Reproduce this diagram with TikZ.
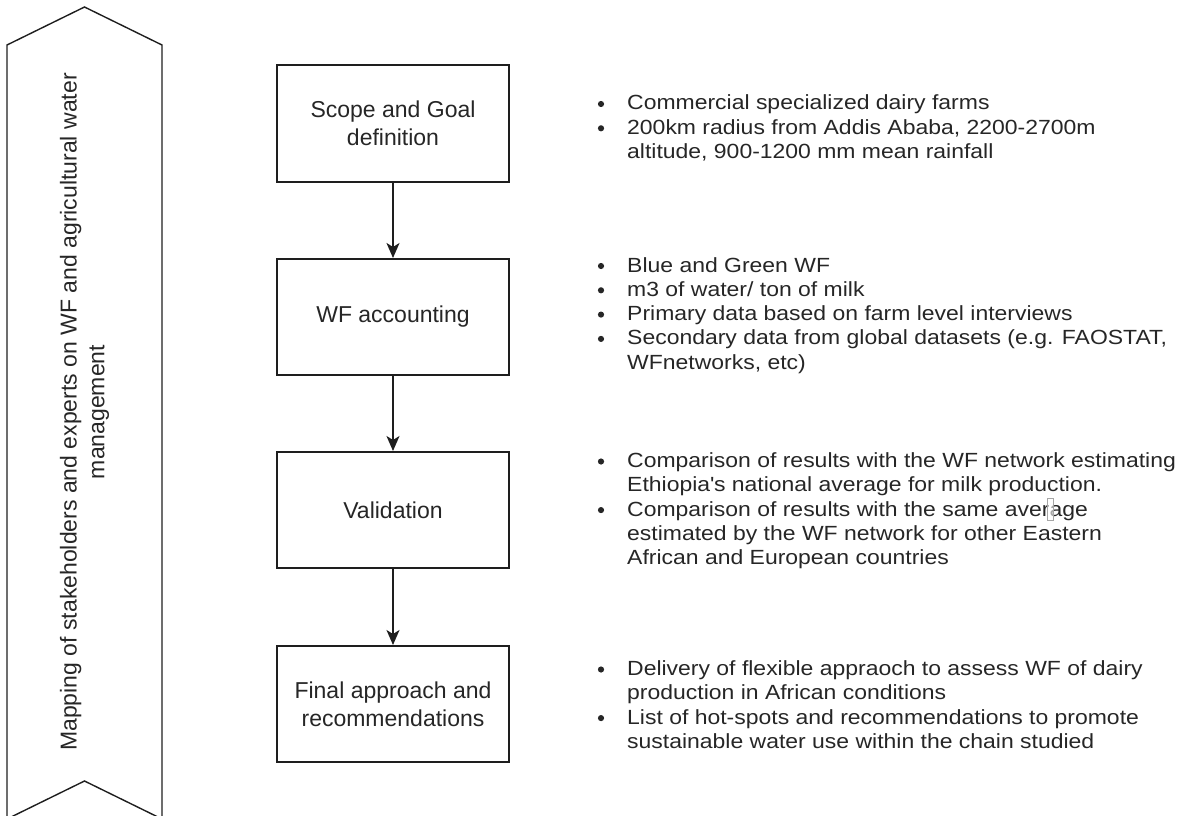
\documentclass[tikz,border=0pt]{standalone}
\usepackage{fontspec}
\setmainfont{Liberation Sans}
\newfontfamily\notefont{Liberation Sans}[FakeStretch=1.12]
\usetikzlibrary{arrows.meta}
\definecolor{inkc}{HTML}{262626}
\definecolor{linec}{HTML}{1E1E1E}
\begin{document}
\begin{tikzpicture}[x=1pt,y=-1pt,
  every node/.style={font=\fontsize{23}{27.7}\selectfont, text=inkc},
  stepbox/.style={draw=linec, line width=2pt, minimum width=232pt, minimum height=116pt, align=center, inner sep=0pt},
  flow/.style={draw=linec, line width=1.6pt, -{Stealth[length=15pt,width=13pt,inset=4pt]}},
  itemline/.style={anchor=base west, inner sep=0pt, font=\notefont\fontsize{20.5}{24.3}\selectfont},
  dot/.style={circle, fill=inkc, draw=none, inner sep=0pt, minimum size=6.2pt},
  banner/.style={draw=linec, line width=1.4pt, line join=miter},
  caret/.style={draw=black!35, fill=white, fill opacity=0.6, line width=0.8pt}
]
\useasboundingbox (0,0) rectangle (1187,816);
\clip (0,0) rectangle (1187,816);

% upward chevron banner on the left
\draw[banner] (7,45) -- (84.5,7) -- (162,45) -- (162,819) -- (84.5,781) -- (7,819) -- cycle;
\node[rotate=90, align=center, inner sep=0pt] (maptext) at (84.5,412)
  {Mapping of stakeholders and experts on WF and agricultural water\\management};

% process steps
\node[stepbox] (scope) at (393,123.5) {Scope and Goal\\definition};
\node[stepbox] (wfacc) at (393,317) {WF accounting};
\node[stepbox] (valid) at (393,510) {Validation};
\node[stepbox] (final) at (393,704) {Final approach and\\recommendations};

\draw[flow] (scope) -- (wfacc);
\draw[flow] (wfacc) -- (valid);
\draw[flow] (valid) -- (final);

% notes for step 1
\node[dot] (sb1) at (601,104) {};
\node[itemline] (s1) at (627,110) {Commercial specialized dairy farms};
\node[dot] (sb2) at (601,128.3) {};
\node[itemline] (s2) at (627,134.3) {200km radius from Addis Ababa, 2200-2700m};
\node[itemline] (s3) at (627,158.6) {altitude, 900-1200 mm mean rainfall};

% notes for step 2
\node[dot] (wb1) at (601,266) {};
\node[itemline] (w1) at (627,272) {Blue and Green WF};
\node[dot] (wb2) at (601,290.3) {};
\node[itemline] (w2) at (627,296.3) {m3 of water/ ton of milk};
\node[dot] (wb3) at (601,314.6) {};
\node[itemline] (w3) at (627,320.6) {Primary data based on farm level interviews};
\node[dot] (wb4) at (601,338.9) {};
\node[itemline] (w4) at (627,344.9) {Secondary data from global datasets (e.g. FAOSTAT,};
\node[itemline] (w5) at (627,369.2) {WFnetworks, etc)};

% notes for step 3
\node[dot] (vb1) at (601,461.5) {};
\node[itemline] (v1) at (627,467.5) {Comparison of results with the WF network estimating};
\node[itemline] (v2) at (627,491.8) {Ethiopia\textquotesingle s national average for milk production.};
\node[dot] (vb2) at (601,510.1) {};
\node[itemline] (v3) at (627,516.1) {Comparison of results with the same average};
\node[itemline] (v4) at (627,540.4) {estimated by the WF network for other Eastern};
\node[itemline] (v5) at (627,564.7) {African and European countries};
% text caret left inside "average"
\draw[caret] (1047,498) rectangle (1053,520);

% notes for step 4
\node[dot] (fb1) at (601,669.5) {};
\node[itemline] (f1) at (627,675.5) {Delivery of flexible appraoch to assess WF of dairy};
\node[itemline] (f2) at (627,699.8) {production in African conditions};
\node[dot] (fb2) at (601,718.1) {};
\node[itemline] (f3) at (627,724.1) {List of hot-spots and recommendations to promote};
\node[itemline] (f4) at (627,748.4) {sustainable water use within the chain studied};
\end{tikzpicture}
\end{document}
